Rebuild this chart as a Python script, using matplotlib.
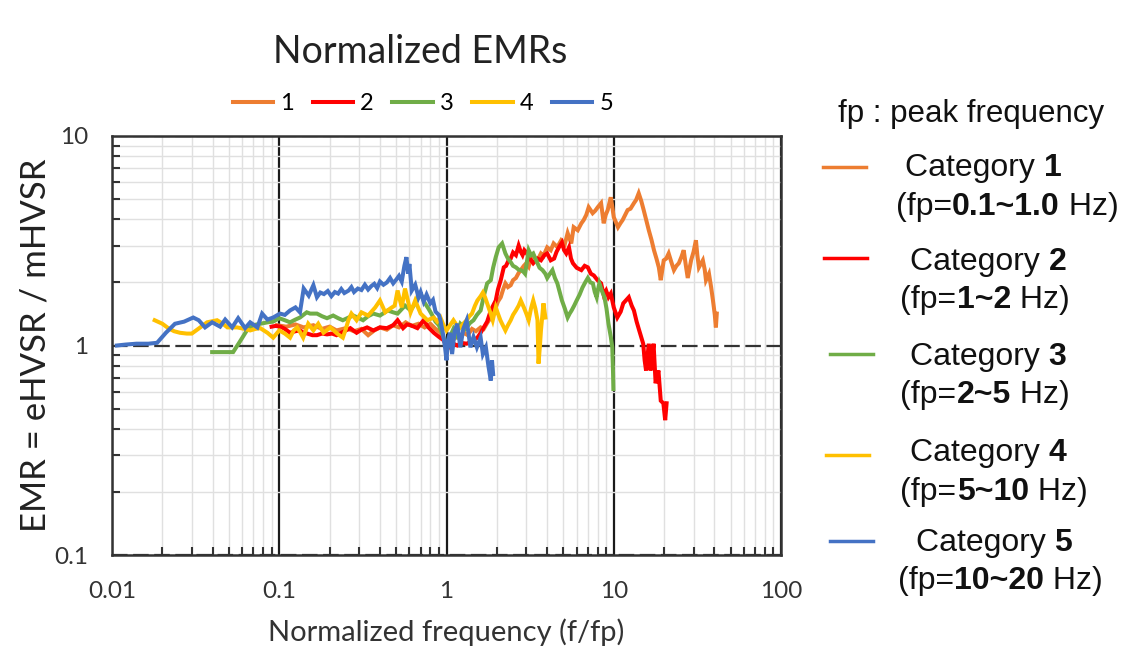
import matplotlib
matplotlib.use("Agg")
import matplotlib.pyplot as plt
from matplotlib.lines import Line2D
from matplotlib.ticker import LogLocator, NullFormatter, FixedLocator, FixedFormatter
from matplotlib.offsetbox import TextArea, HPacker, AnnotationBbox

# ---------------- data: normalized frequency (f/fp) and EMR per category ----------------
cat1_x = [0.097, 0.11, 0.125, 0.14, 0.16, 0.18, 0.2, 0.22, 0.25, 0.28, 0.31, 0.34, 0.37, 0.4,
          0.44, 0.48, 0.52, 0.57, 0.62, 0.68, 0.74, 0.8, 0.86, 0.92, 0.97, 1.02, 1.08, 1.14,
          1.2, 1.27, 1.34, 1.42, 1.5, 1.6, 1.67, 1.75, 1.84, 1.92, 1.97, 2.03, 2.11, 2.18,
          2.25, 2.33, 2.42, 2.5, 2.6, 2.7, 2.78, 2.9, 3.0, 3.1, 3.2, 3.35, 3.5, 3.67, 3.8,
          4.0, 4.2, 4.37, 4.6, 4.85, 5.1, 5.3, 5.57, 5.76, 6.09, 6.4, 6.61, 6.85, 7.08, 7.48,
          7.75, 8.02, 8.4, 8.71, 8.95, 9.2, 9.6, 9.8, 10.0, 10.6, 11.0, 11.3, 12.1, 12.6,
          13.2, 13.6, 14.1, 14.6, 15.1, 15.6, 16.2, 16.8, 17.4, 18.0, 18.6, 19.1, 19.9, 20.6,
          21.3, 22.1, 22.9, 23.7, 24.5, 25.4, 26.2, 27.0, 27.7, 29.0, 30.0, 31.0, 31.6, 32.3,
          34.1, 35.0, 35.6, 37.1, 38.2, 39.2, 40.2, 40.8, 41.3]
cat1_y = [1.25, 1.23, 1.26, 1.22, 1.25, 1.2, 1.23, 1.18, 1.21, 1.17, 1.2, 1.12, 1.18, 1.22,
          1.19, 1.25, 1.22, 1.29, 1.24, 1.27, 1.22, 1.27, 1.2, 1.15, 1.05, 0.97, 1.05, 1.1,
          1.08, 1.15, 1.12, 1.2, 1.17, 1.22, 1.2, 1.28, 1.36, 1.45, 1.52, 1.62, 1.7, 1.85,
          1.98, 1.9, 1.94, 2.05, 2.1, 2.22, 2.29, 2.4, 2.47, 2.38, 2.6, 2.64, 2.55, 2.75, 2.68,
          2.94, 2.85, 3.07, 2.95, 3.18, 3.05, 3.44, 3.07, 3.67, 3.55, 3.83, 3.97, 4.2, 4.57, 4.28,
          4.4, 4.57, 4.78, 3.83, 4.2, 4.43, 5.1, 4.6, 4.1, 3.67, 3.85, 3.97, 4.43, 4.5,
          4.78, 4.95, 5.33, 4.9, 4.43, 4.0, 3.55, 3.2, 2.85, 2.6, 2.36, 2.05, 2.55, 2.6,
          2.75, 2.5, 2.29, 2.4, 2.47, 2.65, 2.85, 2.4, 2.1, 2.55, 2.8, 3.18, 2.7, 2.36,
          2.55, 2.3, 2.05, 2.2, 1.9, 1.64, 1.4, 1.22, 1.42]

cat2_x = [0.09, 0.095, 0.102, 0.108, 0.116, 0.125, 0.133, 0.14, 0.147, 0.158, 0.168, 0.18,
          0.193, 0.207, 0.22, 0.24, 0.266, 0.29, 0.31, 0.335, 0.365, 0.4, 0.44, 0.48, 0.51,
          0.55, 0.58, 0.61, 0.67, 0.73, 0.78, 0.84, 0.9, 0.96, 1.0, 1.05, 1.1, 1.16, 1.22,
          1.32, 1.42, 1.53, 1.6, 1.67, 1.75, 1.84, 1.9, 1.97, 2.03, 2.11, 2.2, 2.27, 2.35,
          2.42, 2.5, 2.6, 2.7, 2.78, 2.85, 2.92, 3.0, 3.15, 3.3, 3.5, 3.67, 3.85, 4.0, 4.2,
          4.4, 4.55, 4.7, 4.9, 5.05, 5.2, 5.4, 5.55, 5.7, 6.0, 6.4, 6.7, 7.0, 7.3, 7.6, 8.0,
          8.4, 8.7, 9.0, 9.3, 9.6, 10.0, 10.5, 11.0, 11.4, 12.3, 12.8, 13.2, 13.7, 14.2, 15.0,
          15.3, 15.6, 16.2, 16.6, 17.0, 17.3, 17.8, 18.5, 19.1, 19.8, 20.3, 20.7]
cat2_y = [1.23, 1.24, 1.23, 1.2, 1.15, 1.17, 1.18, 1.15, 1.14, 1.12, 1.12, 1.14,
          1.13, 1.14, 1.12, 1.16, 1.21, 1.15, 1.19, 1.22, 1.18, 1.22, 1.21, 1.25, 1.32,
          1.21, 1.26, 1.25, 1.21, 1.32, 1.22, 1.15, 1.1, 1.06, 1.0, 0.98, 1.02, 1.0, 1.03,
          1.02, 1.05, 1.09, 1.15, 1.22, 1.3, 1.47, 1.55, 1.64, 1.85, 2.05, 2.36, 2.4, 2.55,
          2.6, 2.78, 2.7, 3.0, 2.8, 2.7, 2.85, 2.78, 2.6, 2.47, 2.6, 2.55, 2.7, 2.75, 2.55,
          2.6, 2.8, 2.94, 3.1, 2.85, 2.75, 2.94, 2.6, 2.47, 2.35, 2.29, 2.4, 2.36, 2.2, 2.16, 2.05,
          1.98, 1.75, 1.83, 1.7, 1.77, 1.52, 1.36, 1.45, 1.59, 1.7, 1.55, 1.47, 1.3, 1.18, 1.02,
          0.85, 0.76, 1.02, 0.76, 0.9, 1.02, 0.66, 0.76, 0.545, 0.53, 0.44, 0.53]

cat3_x = [0.0397, 0.045, 0.05, 0.053, 0.058, 0.064, 0.07, 0.077, 0.085, 0.092, 0.1, 0.108,
          0.116, 0.125, 0.133, 0.146, 0.153, 0.168, 0.18, 0.193, 0.21, 0.225, 0.24, 0.26,
          0.277, 0.3, 0.317, 0.34, 0.365, 0.4, 0.445, 0.48, 0.51, 0.565, 0.61, 0.65, 0.7,
          0.74, 0.78, 0.82, 0.86, 0.9, 0.95, 1.0, 1.05, 1.1, 1.15, 1.21, 1.3, 1.38, 1.45,
          1.52, 1.6, 1.68, 1.75, 1.84, 1.9, 1.97, 2.05, 2.15, 2.25, 2.33, 2.42, 2.5, 2.6,
          2.7, 2.78, 2.88, 2.95, 3.1, 3.2, 3.3, 3.4, 3.5, 3.6, 3.75, 3.9, 4.0, 4.15, 4.3,
          4.45, 4.6, 4.75, 4.9, 5.1, 5.3, 5.45, 5.6, 5.8, 6.0, 6.25, 6.5, 6.75, 7.0, 7.25,
          7.5, 7.7, 7.9, 8.05, 8.2, 8.5, 8.8, 9.05, 9.3, 9.6, 9.8, 9.9, 9.95]
cat3_y = [0.93, 0.93, 0.93, 0.93, 1.04, 1.18, 1.25, 1.27, 1.29, 1.3, 1.35, 1.32,
          1.29, 1.33, 1.36, 1.44, 1.42, 1.42, 1.38, 1.35, 1.39, 1.35, 1.32, 1.36,
          1.39, 1.35, 1.32, 1.38, 1.42, 1.39, 1.47, 1.44, 1.42, 1.55, 1.47, 1.59, 1.77,
          1.6, 1.5, 1.4, 1.3, 1.25, 1.12, 1.0, 1.1, 1.2, 1.12, 1.27, 1.2, 1.28, 1.32,
          1.4, 1.47, 1.75, 1.98, 2.05, 2.35, 2.64, 2.94, 3.07, 2.75, 2.6, 2.5, 2.4, 2.36,
          2.3, 2.29, 2.25, 2.2, 2.85, 2.7, 2.75, 2.6, 2.47, 2.35, 2.29, 2.2, 2.1, 2.2, 2.29,
          2.1, 1.98, 1.8, 1.64, 1.5, 1.36, 1.42, 1.47, 1.55, 1.64, 1.75, 1.89, 2.0, 2.1, 2.0,
          1.98, 1.8, 1.7, 1.85, 1.98, 1.82, 1.7, 1.5, 1.27, 1.1, 0.98, 0.75, 0.62]

cat4_x = [0.018, 0.02, 0.0217, 0.0235, 0.0255, 0.028, 0.03, 0.0337, 0.037, 0.0425, 0.046,
          0.049, 0.056, 0.062, 0.067, 0.072, 0.077, 0.085, 0.092, 0.1, 0.108, 0.116, 0.122,
          0.128, 0.134, 0.139, 0.149, 0.16, 0.171, 0.184, 0.202, 0.222, 0.24, 0.25, 0.259,
          0.27, 0.29, 0.31, 0.34, 0.375, 0.4, 0.43, 0.46, 0.49, 0.51, 0.54, 0.565, 0.61,
          0.65, 0.7, 0.77, 0.84, 0.88, 0.92, 0.96, 1.0, 1.05, 1.1, 1.15, 1.21, 1.27, 1.32,
          1.37, 1.42, 1.48, 1.53, 1.6, 1.65, 1.7, 1.75, 1.82, 1.89, 1.97, 2.03, 2.1, 2.17,
          2.25, 2.33, 2.42, 2.5, 2.6, 2.7, 2.78, 2.9, 3.0, 3.1, 3.2, 3.3, 3.4, 3.5, 3.55,
          3.62, 3.67, 3.8, 3.9]
cat4_y = [1.32, 1.27, 1.21, 1.17, 1.15, 1.14, 1.14, 1.22, 1.29, 1.32, 1.27,
          1.22, 1.22, 1.2, 1.18, 1.2, 1.21, 1.15, 1.09, 1.18, 1.14, 1.09, 1.18,
          1.22, 1.15, 1.09, 1.27, 1.18, 1.27, 1.15, 1.22, 1.14, 1.09, 1.2, 1.32,
          1.42, 1.32, 1.44, 1.39, 1.52, 1.64, 1.44, 1.5, 1.55, 1.83, 1.52, 1.87, 1.44,
          1.64, 1.42, 1.32, 1.36, 1.3, 1.36, 1.25, 1.18, 1.25, 1.32, 1.25, 1.22, 1.28, 1.32,
          1.38, 1.42, 1.55, 1.64, 1.72, 1.79, 1.7, 1.59, 1.45, 1.32, 1.52, 1.42, 1.32, 1.25,
          1.18, 1.25, 1.32, 1.4, 1.47, 1.55, 1.64, 1.52, 1.42, 1.32, 1.5, 1.64, 1.5, 1.32, 0.82,
          1.0, 1.18, 1.59, 1.36]

cat5_x = [0.0107, 0.012, 0.014, 0.0165, 0.0186, 0.021, 0.0238, 0.027, 0.0306, 0.033, 0.036,
          0.0397, 0.0443, 0.0475, 0.0523, 0.0568, 0.0625, 0.067, 0.074, 0.079, 0.085, 0.092,
          0.101, 0.108, 0.116, 0.125, 0.133, 0.14, 0.15, 0.16, 0.168, 0.176, 0.185, 0.195,
          0.205, 0.215, 0.225, 0.235, 0.245, 0.26, 0.27, 0.28, 0.295, 0.31, 0.325, 0.34,
          0.355, 0.37, 0.385, 0.4, 0.42, 0.44, 0.46, 0.48, 0.5, 0.52, 0.54, 0.56, 0.576,
          0.59, 0.6, 0.62, 0.65, 0.68, 0.7, 0.73, 0.76, 0.8, 0.83, 0.86, 0.9, 0.92, 0.95,
          0.98, 1.0, 1.02, 1.05, 1.08, 1.12, 1.16, 1.21, 1.26, 1.32, 1.39, 1.45, 1.52, 1.6,
          1.65, 1.72, 1.78, 1.84, 1.87, 1.9]
cat5_y = [1.0, 1.01, 1.02, 1.02, 1.03, 1.15, 1.27, 1.3, 1.36, 1.32, 1.22,
          1.29, 1.23, 1.33, 1.22, 1.35, 1.21, 1.29, 1.22, 1.42, 1.33, 1.36,
          1.42, 1.4, 1.47, 1.52, 1.44, 1.87, 1.73, 1.94, 1.7, 1.79, 1.76, 1.82,
          1.72, 1.8, 1.77, 1.86, 1.78, 1.83, 1.9, 1.8, 1.87, 1.84, 1.95,
          1.85, 1.92, 1.97, 1.88, 2.02, 1.95, 2.0, 2.1, 1.98, 2.06, 2.15, 2.02, 2.4, 2.64,
          2.2, 2.45, 1.83, 1.95, 1.7, 1.8, 1.62, 1.75, 1.59, 1.65, 1.45, 1.4, 1.32, 1.15,
          0.98, 0.85, 1.06, 1.15, 0.91, 1.18, 1.27, 0.98, 1.2, 1.32, 0.98, 1.1, 0.98, 1.09,
          0.91, 0.98, 0.8, 0.68, 0.85, 0.73]

series_labels = ["1", "2", "3", "4", "5"]
series_colors = ["#ED7D31", "#FF0000", "#70AD47", "#FFC000", "#4472C4"]
category_ranges = ["0.1~1.0", "1~2", "2~5", "5~10", "10~20"]

x_ticks = [0.01, 0.1, 1, 10, 100]
x_ticklabels = ["0.01", "0.1", "1", "10", "100"]
y_ticks = [0.1, 1, 10]
y_ticklabels = ["0.1", "1", "10"]

# ---------------- figure ----------------
W, H = 1126, 653
fig = plt.figure(figsize=(W / 100, H / 100), dpi=100)
fig.patch.set_facecolor("white")

def fx(px):
    return px / W

def fy(py):
    return 1 - py / H

ax = fig.add_axes([fx(112), fy(555), fx(781) - fx(112), fy(136) - fy(555)])
ax.set_xscale("log")
ax.set_yscale("log")
ax.set_xlim(0.01, 100)
ax.set_ylim(0.1, 10)

chart_font = "Lato"
side_font = "Liberation Sans"

# grid
ax.set_axisbelow(True)
ax.xaxis.set_minor_locator(LogLocator(base=10, subs=range(2, 10), numticks=20))
ax.yaxis.set_minor_locator(LogLocator(base=10, subs=range(2, 10), numticks=20))
ax.xaxis.set_minor_formatter(NullFormatter())
ax.yaxis.set_minor_formatter(NullFormatter())
ax.grid(which="minor", color="#e0e0e0", lw=1.0)
ax.grid(which="major", axis="x", color="#1a1a1a", lw=1.6)
ax.grid(which="major", axis="y", color="#333333", lw=1.6, ls=(0, (7, 2.5)))

xs = [cat1_x, cat2_x, cat3_x, cat4_x, cat5_x]
ys = [cat1_y, cat2_y, cat3_y, cat4_y, cat5_y]
handles = []
for x, y, c, lab in zip(xs, ys, series_colors, series_labels):
    h, = ax.plot(x, y, color=c, lw=2.9, solid_joinstyle="miter", label=lab)
    handles.append(h)

for s in ax.spines.values():
    s.set_color("#333333")
    s.set_linewidth(1.8)

ax.xaxis.set_major_locator(FixedLocator(x_ticks))
ax.xaxis.set_major_formatter(FixedFormatter(x_ticklabels))
ax.yaxis.set_major_locator(FixedLocator(y_ticks))
ax.yaxis.set_major_formatter(FixedFormatter(y_ticklabels))
ax.tick_params(which="major", length=0, labelsize=17.5, labelcolor="#333333")
ax.tick_params(axis="y", which="major", pad=17)
ax.tick_params(axis="x", which="major", pad=19)
ax.tick_params(which="minor", direction="in", length=6, width=1.5, color="#333333",
               top=False, right=False)
for lbl in ax.get_xticklabels() + ax.get_yticklabels():
    lbl.set_fontfamily(chart_font)

ax.set_xlabel("Normalized frequency (f/fp)", fontsize=21, family=chart_font,
              color="#333333")
ax.xaxis.set_label_coords(0.5, (555 - 632) / (555 - 136), transform=ax.transAxes)
ax.xaxis.label.set_va("center")
ax.set_ylabel("EMR = eHVSR / mHVSR", fontsize=25, family=chart_font,
              color="#222222")
ax.yaxis.set_label_coords((36 - 112) / (781 - 112), 0.5, transform=ax.transAxes)
ax.yaxis.label.set_va("center")

fig.text(fx(420), fy(52), "Normalized EMRs", ha="center", va="center",
         fontsize=27, family=chart_font, color="#222222")

fig.legend(handles=handles, labels=series_labels, loc="center",
           bbox_to_anchor=(fx(423), fy(104)), ncol=5, frameon=False,
           prop={"family": chart_font, "size": 17}, handlelength=1.7,
           handletextpad=0.3, columnspacing=0.8)

# ---------------- side annotation ----------------
fig.text(fx(838), fy(114), "fp : peak frequency", ha="left", va="center",
         fontsize=22.5, family=side_font, color="#111111")

side_line_y = [167, 258, 354, 455, 541]
side_line_x = [823, 824, 830, 826, 830]
cat_center = [(983, 168), (988, 262), (988, 357), (988, 453), (994, 543)]
rng_center = [(1007, 207), (985, 300), (985, 395), (994, 492), (1000, 581)]

def mixed_text(parts, size):
    areas = [TextArea(t, textprops=dict(fontsize=size, family=side_font,
                                        fontweight=w, color="#111111"))
             for t, w in parts]
    return HPacker(children=areas, align="baseline", pad=0, sep=0)

for i in range(5):
    ly = fy(side_line_y[i])
    fig.add_artist(Line2D([fx(side_line_x[i]), fx(side_line_x[i] + 43)], [ly, ly],
                          transform=fig.transFigure, color=series_colors[i], lw=2.5))
    box1 = mixed_text([("Category ", "normal"), (series_labels[i], "bold")], 23)
    ab1 = AnnotationBbox(box1, (fx(cat_center[i][0]), fy(cat_center[i][1])),
                         xycoords="figure fraction", frameon=False, box_alignment=(0.5, 0.5),
                         pad=0)
    fig.add_artist(ab1)
    box2 = mixed_text([("(fp=", "normal"), (category_ranges[i], "bold"), (" Hz)", "normal")], 23)
    ab2 = AnnotationBbox(box2, (fx(rng_center[i][0]), fy(rng_center[i][1])),
                         xycoords="figure fraction", frameon=False, box_alignment=(0.5, 0.5),
                         pad=0)
    fig.add_artist(ab2)

fig.savefig("out.png", dpi=100)
